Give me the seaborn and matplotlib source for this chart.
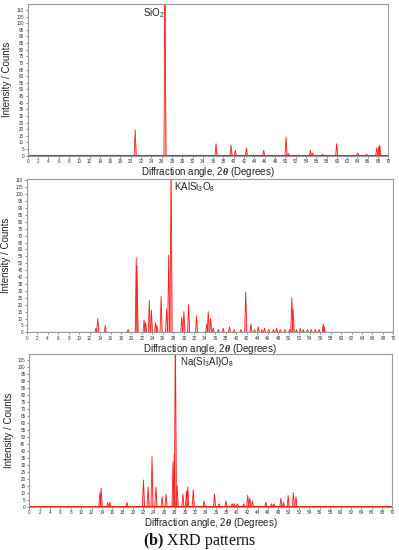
import numpy as np
import pandas as pd
import matplotlib
matplotlib.use("Agg")
import matplotlib.pyplot as plt
import seaborn as sns

# ---- data (peak positions in degrees 2-theta, intensities in counts) ----
sio2_angle = [20.86, 26.64, 36.55, 39.47, 40.30, 42.45, 45.80, 50.14, 50.62,
              54.87, 55.30, 57.24, 59.96, 64.04, 65.80, 67.74, 68.14, 68.32]
sio2_int = [19.5, 130, 9, 8, 4, 6, 4, 14, 1.5,
            4, 2, 1, 9, 2, 1, 6, 7, 8]

kal_angle = [13.20, 13.56, 15.00, 19.35, 20.90, 21.05, 22.40, 22.70, 23.40, 23.80,
             24.60, 24.85, 25.65, 26.70, 27.10, 27.55, 29.60, 30.00, 30.90, 32.40,
             34.35, 34.65, 35.10, 35.60, 36.60, 37.50, 38.70, 39.60, 40.90, 41.80,
             42.80, 43.50, 44.20, 44.90, 45.40, 46.20, 47.10, 47.70, 48.40, 49.30,
             50.20, 50.60, 50.85, 51.50, 52.20, 52.80, 53.60, 54.30, 55.10, 55.80,
             56.60, 56.80]
kal_int = [3, 10, 5, 2, 54, 48, 9, 7, 23, 16,
           7, 5, 26, 17, 56, 130, 11, 15, 20, 12,
           6, 15, 10, 3, 2, 3, 4, 2, 2, 29,
           6, 2, 4, 2, 3, 2, 2, 3, 2, 2,
           2, 25, 17, 2, 3, 2, 2, 2, 2, 2,
           6, 4]

na_angle = [13.60, 13.85, 15.10, 15.55, 18.80, 22.00, 22.90, 23.65, 24.40, 25.60,
            26.35, 27.70, 27.92, 28.15, 28.50, 29.60, 30.30, 30.55, 31.60, 33.70,
            35.70, 36.60, 37.90, 39.10, 39.50, 40.10, 41.30, 42.10, 42.50, 43.00,
            45.60, 46.70, 47.20, 48.50, 49.00, 49.90, 50.90, 51.40]
na_int = [10, 13, 3, 3, 3, 19, 14, 36, 14, 7,
          9, 32, 37, 130, 15, 9, 11, 14, 12, 4,
          9, 2, 4, 2, 2, 2, 2, 8, 6, 4,
          3, 2, 2, 6, 3, 8, 10, 7]

x_ticks = list(range(0, 72, 2))

panels = [
    dict(angle=sio2_angle, inten=sio2_int, label="SiO$_2$", lx=22.4, ly=107.5,
         ymax=114.5, ytop=110, rect=[0.0694, 0.717, 0.904, 0.2758]),
    dict(angle=kal_angle, inten=kal_int, label="KAlSi$_3$O$_8$", lx=28.2, ly=105.5,
         ymax=111.0, ytop=110, rect=[0.0670, 0.3958, 0.919, 0.2787]),
    dict(angle=na_angle, inten=na_int, label="Na(Si$_3$Al)O$_8$", lx=29.1, ly=103.5,
         ymax=109.0, ytop=105, rect=[0.0735, 0.0790, 0.910, 0.2773]),
]

sns.set_theme(style="white")
plt.rcParams["font.family"] = ["Liberation Sans", "DejaVu Sans"]
plt.rcParams["mathtext.fontset"] = "custom"
plt.rcParams["mathtext.rm"] = "Liberation Sans"
plt.rcParams["mathtext.it"] = "Liberation Sans:italic"
plt.rcParams["mathtext.bf"] = "Liberation Serif:bold"
plt.rcParams["mathtext.bfit"] = "Liberation Serif:bold:italic"

fig = plt.figure(figsize=(3.99, 5.5), dpi=100)

HW = 0.2  # half width of drawn peaks (style)
for p in panels:
    ax = fig.add_axes(p["rect"])
    rows = []
    for i, (a, h) in enumerate(zip(p["angle"], p["inten"])):
        rows += [(i, a - HW, 0.0), (i, a, h), (i, a + HW, 0.0)]
    df = pd.DataFrame(rows, columns=["peak", "angle", "intensity"])
    for _, g in df.groupby("peak"):
        ax.fill_between(g["angle"], 0, g["intensity"], color="#ffb8b8", lw=0)
    sns.lineplot(data=df, x="angle", y="intensity", units="peak", estimator=None,
                 color="#ff1a1a", lw=0.6, ax=ax, legend=False)
    ax.axhline(0.3, color="#d22", lw=0.8, zorder=1)
    ax.set_xlim(0, 70)
    ax.set_ylim(0, p["ymax"])
    ax.set_xticks(x_ticks)
    ax.set_yticks(list(range(0, p["ytop"] + 1, 5)))
    ax.tick_params(axis="both", labelsize=3.3, length=1.5, width=0.4,
                   pad=1.2, colors="#333333", bottom=True, left=True)
    for s in ax.spines.values():
        s.set_color("#9a9a9a")
        s.set_linewidth(0.8)
    ax.set_xlabel(r"Diffraction angle, 2$\mathbfit{\theta}$ (Degrees)", fontsize=7,
                  labelpad=0.5, color="#222222")
    ax.set_ylabel("Intensity / Counts", fontsize=7, labelpad=3, color="#222222")
    ax.text(p["lx"], p["ly"], p["label"], fontsize=7, va="center", ha="left",
            color="#222222")

fig.text(0.5, 0.016, r"$\mathbf{(b)}$ XRD patterns", ha="center", va="center",
         fontsize=11.5, family=["Liberation Serif"], color="#111111")
fig.savefig("out.png", dpi=100)
